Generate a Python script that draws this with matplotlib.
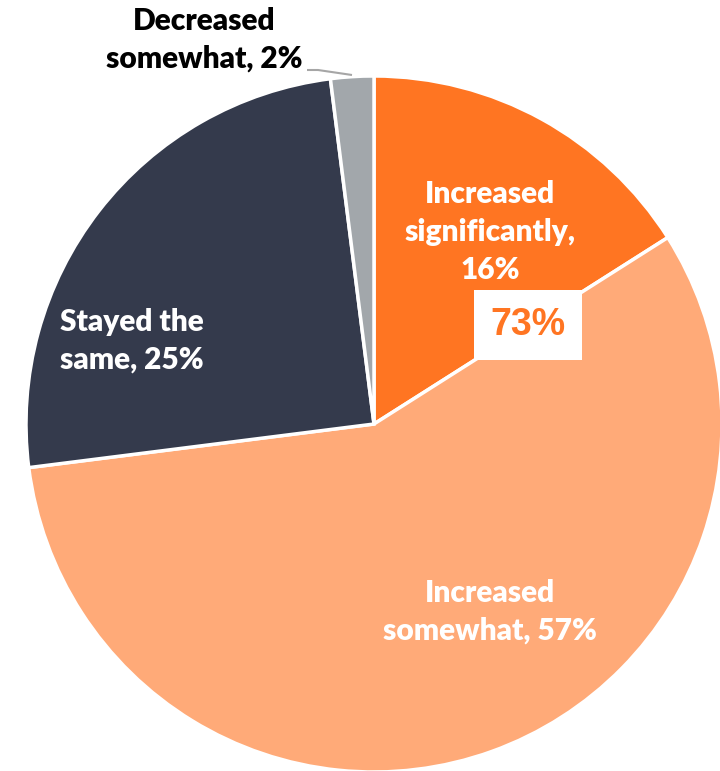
import matplotlib.pyplot as plt

# --[data]---------------------------------------------------------------------
labels = ['Increased\nsignificantly,\n16%', 'Increased\nsomewhat, 57%',
          'Stayed the\nsame, 25%', 'Decreased\nsomewhat, 2%']
values = [16, 57, 25, 2]
colors = ['#FF7522', '#FFAA78', '#343A4C', '#A2A7AB']
total_increased = '73%'

# --[figure]-------------------------------------------------------------------
W, H = 720, 771
fig = plt.figure(figsize=(W / 100, H / 100), dpi=100)
ax = fig.add_axes([0, 0, 1, 1])

cx, cy, r = 374, H - 424, 348
ax.pie(values, colors=colors, startangle=90, counterclock=False,
       center=(cx, cy), radius=r, frame=True,
       wedgeprops=dict(edgecolor='white', linewidth=2.5))
ax.set_xlim(0, W)
ax.set_ylim(0, H)
ax.set_aspect('equal')
ax.axis('off')

font = dict(family='Lato', fontweight='heavy', fontsize=21.5, ha='center',
            va='center', linespacing=1.43)

# label positions in pixel coords (x, y from top)
label_pos = [(490, 232), (490, 612), (132, 341), (204, 40)]
label_col = ['white', 'white', 'white', 'black']
for text, (x, y), c in zip(labels, label_pos, label_col):
    ax.text(x, H - y, text, color=c, **font)

# leader line for the small slice
ax.plot([307, 318, 352], [H - 70, H - 70, H - 75], color='#A6A6A6', lw=1.5,
        solid_capstyle='butt')

# total increased box
ax.text(528, H - 325, total_increased, color='#FF7522', fontsize=27,
        fontweight='bold', family='Liberation Sans', ha='center', va='center',
        bbox=dict(boxstyle='square,pad=0.45', fc='white', ec='none'))

fig.savefig('out.png', dpi=100)
